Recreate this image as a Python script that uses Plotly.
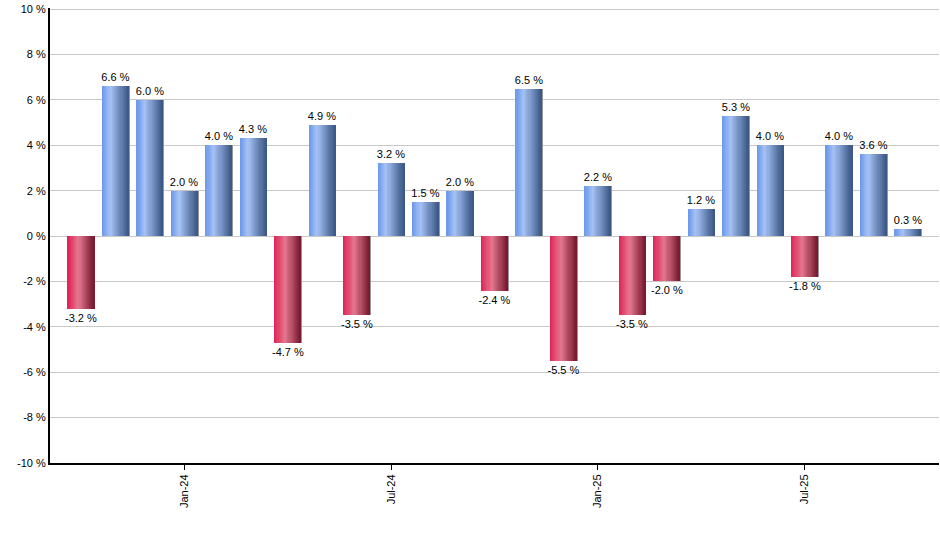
import plotly.graph_objects as go

months = ["Oct-23", "Nov-23", "Dec-23", "Jan-24", "Feb-24", "Mar-24", "Apr-24", "May-24",
          "Jun-24", "Jul-24", "Aug-24", "Sep-24", "Oct-24", "Nov-24", "Dec-24", "Jan-25",
          "Feb-25", "Mar-25", "Apr-25", "May-25", "Jun-25", "Jul-25", "Aug-25", "Sep-25", "Oct-25"]
returns = [-3.2, 6.6, 6.0, 2.0, 4.0, 4.3, -4.7, 4.9, -3.5, 3.2, 1.5, 2.0, -2.4, 6.5, -5.5,
           2.2, -3.5, -2.0, 1.2, 5.3, 4.0, -1.8, 4.0, 3.6, 0.3]
x_tick_vals = ["Jan-24", "Jul-24", "Jan-25", "Jul-25"]
y_tick_vals = [-10, -8, -6, -4, -2, 0, 2, 4, 6, 8, 10]
y_tick_text = ["-10 %", "-8 %", "-6 %", "-4 %", "-2 %", "0 %", "2 %", "4 %", "6 %", "8 %", "10 %"]

BAR_W = 0.76
N_STRIPS = 24
FONT = "Arial, Liberation Sans, sans-serif"

blue_stops = [(0.0, (104, 150, 232)), (0.32, (166, 194, 245)), (1.0, (58, 86, 132))]
red_stops = [(0.0, (224, 34, 84)), (0.42, (228, 120, 144)), (1.0, (118, 24, 46))]


def grad(stops, t):
    for (t0, c0), (t1, c1) in zip(stops[:-1], stops[1:]):
        if t <= t1:
            f = (t - t0) / (t1 - t0) if t1 > t0 else 0
            return "rgb(%d,%d,%d)" % tuple(round(a + (b - a) * f) for a, b in zip(c0, c1))
    return "rgb(%d,%d,%d)" % stops[-1][1]


fig = go.Figure()

# shadow on right edge
fig.add_trace(go.Bar(
    x=months, y=returns, offset=-BAR_W / 2 + 0.03, width=BAR_W,
    marker=dict(color="rgb(150,150,150)", line=dict(width=0)),
    hoverinfo="skip", showlegend=False))

sw = BAR_W / N_STRIPS
for i in range(N_STRIPS):
    t = (i + 0.5) / N_STRIPS
    colors = [grad(blue_stops, t) if v >= 0 else grad(red_stops, t) for v in returns]
    fig.add_trace(go.Bar(
        x=months, y=returns, offset=-BAR_W / 2 + i * sw, width=sw * 1.25 if i < N_STRIPS - 1 else sw,
        marker=dict(color=colors, line=dict(width=0)),
        hoverinfo="skip", showlegend=False))

# labels
fig.add_trace(go.Bar(
    x=months, y=returns, offset=-BAR_W / 2, width=BAR_W,
    marker=dict(color="rgba(0,0,0,0)", line=dict(width=0)),
    text=[f"{v:.1f} %" for v in returns], textposition="outside",
    constraintext="none", cliponaxis=False,
    textfont=dict(family=FONT, size=11, color="black"),
    showlegend=False))

fig.update_layout(
    width=940, height=550,
    margin=dict(l=50, r=1, t=8, b=87, autoexpand=False),
    plot_bgcolor="white", paper_bgcolor="white",
    barmode="overlay", bargap=0,
    font=dict(family=FONT, size=11, color="black"),
    showlegend=False,
)
fig.update_xaxes(
    type="category", categoryorder="array", categoryarray=months,
    range=[-0.9, 24.9], automargin=False,
    tickmode="array", tickvals=x_tick_vals, ticktext=x_tick_vals,
    tickangle=-90, ticks="outside", ticklen=5, tickcolor="black",
    showline=True, linecolor="black", linewidth=2, showgrid=False,
    tickfont=dict(family=FONT, size=11, color="black"),
)
fig.update_yaxes(
    range=[-10, 10.05], automargin=False, tickmode="array", tickvals=y_tick_vals, ticktext=y_tick_text,
    ticklabeloverflow="allow",
    showgrid=True, gridcolor="rgb(200,200,200)", gridwidth=1, zeroline=False,
    showline=True, linecolor="black", linewidth=2, ticks="",
    tickfont=dict(family=FONT, size=11, color="black"),
)

fig.write_html("out.html", config={"displayModeBar": False},
               post_script="document.body.style.margin='0';")
